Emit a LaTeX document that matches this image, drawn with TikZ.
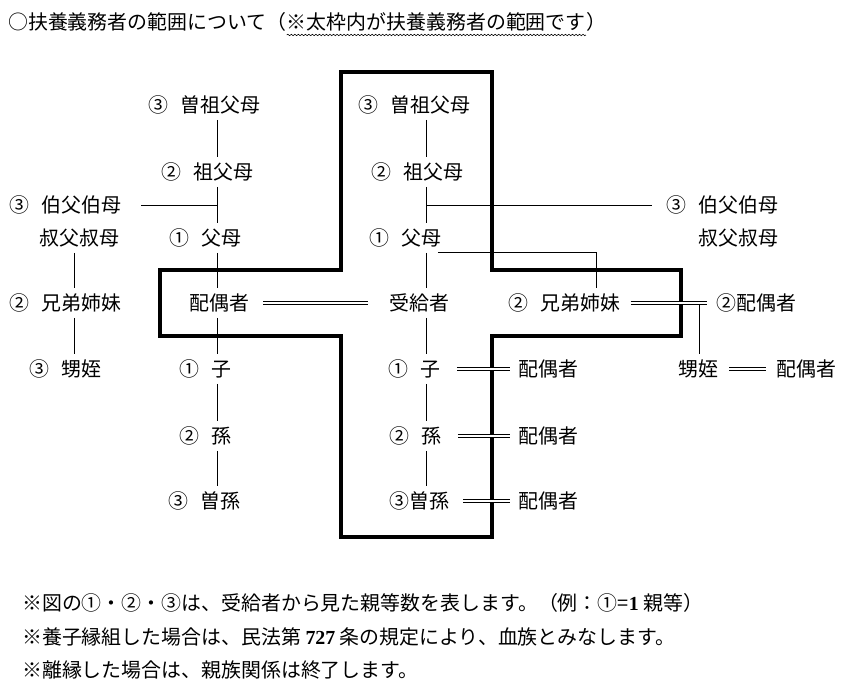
\documentclass[tikz,border=0pt]{standalone}
\usepackage{fontspec}
\setmainfont{Noto Sans CJK JP}
\newfontfamily\latinbf{Liberation Serif}
\usetikzlibrary{positioning,decorations.pathmorphing}

\newcommand{\nsp}{\hspace{0.6em}}

\tikzset{
  kin/.style={anchor=west,inner xsep=1pt,inner ysep=4pt,text height=15pt,text depth=2pt,font=\fontsize{17}{20}\selectfont},
  note/.style={anchor=west,inner sep=0pt,font=\fontsize{17}{20}\selectfont},
  link/.style={line width=0.7pt},
  wed/.style={double,double distance=2.4pt,line width=0.9pt},
  frame/.style={line width=3.4pt,line join=miter}
}

\begin{document}
\begin{tikzpicture}[x=0.03cm,y=-0.03cm]
  \useasboundingbox (0,0) rectangle (855,694);
  % title
  \node[note] (ttl) at (8,22) {○扶養義務者の範囲について（};
  \node[note,anchor=base west] (ttlnote) at (ttl.base east) {※太枠内が扶養義務者の範囲です};
  \node[note,anchor=base west] (ttlend) at (ttlnote.base east) {）};
  \draw[decorate,decoration={snake,amplitude=0.6pt,segment length=3pt},line width=0.5pt]
    ([yshift=-3pt]ttlnote.south west) -- ([yshift=-3pt]ttlnote.south east);

  % the thick frame
  \draw[frame] (341,72) -- (492,72) -- (492,270) -- (681,270) -- (681,336) -- (492,336)
    -- (492,537) -- (341,537) -- (341,336) -- (160,336) -- (160,270) -- (341,270) -- cycle;

  % columns
  \coordinate (colF) at (74,0);
  \coordinate (colL) at (217,0);
  \coordinate (colC) at (426,0);
  \coordinate (colS) at (596,0);
  \coordinate (colN) at (699,0);

  % far left
  \node[kin] (uncleL) at (8,205)   {③\nsp 伯父伯母};
  \node[kin] (auntL)  at (38,238)  {叔父叔母};
  \node[kin] (sibL)   at (8,303)   {②\nsp 兄弟姉妹};
  \node[kin] (nephL)  at (28,369)  {③\nsp 甥姪};

  % left column
  \node[kin] (ggpL) at (147,105) {③\nsp 曽祖父母};
  \node[kin] (gpL)  at (160,172) {②\nsp 祖父母};
  \node[kin] (pL)   at (168,238) {①\nsp 父母};
  \node[kin] (spL)  at (188,303) {配偶者};
  \node[kin] (chL)  at (178,369) {①\nsp 子};
  \node[kin] (gcL)  at (178,436) {②\nsp 孫};
  \node[kin] (ggcL) at (167,501) {③\nsp 曽孫};

  % centre column
  \node[kin] (ggpC) at (357,105) {③\nsp 曽祖父母};
  \node[kin] (gpC)  at (370,172) {②\nsp 祖父母};
  \node[kin] (pC)   at (368,238) {①\nsp 父母};
  \node[kin] (self) at (388,303) {受給者};
  \node[kin] (chC)  at (387,369) {①\nsp 子};
  \node[kin] (gcC)  at (388,436) {②\nsp 孫};
  \node[kin] (ggcC) at (388,501) {③曽孫};
  \node[kin] (chSp)  at (517,369) {配偶者};
  \node[kin] (gcSp)  at (517,436) {配偶者};
  \node[kin] (ggcSp) at (517,501) {配偶者};

  % right side
  \node[kin] (uncleR) at (665,205) {③\nsp 伯父伯母};
  \node[kin] (auntR)  at (697,238) {叔父叔母};
  \node[kin] (sibC)   at (507,303) {②\nsp 兄弟姉妹};
  \node[kin] (sibSp)  at (715,303) {②配偶者};
  \node[kin] (nephC)  at (677,369) {甥姪};
  \node[kin] (nephSp) at (775,369) {配偶者};

  % blood lines
  \draw[link] (uncleL.east) ++(16pt,0) -- (uncleL -| colL);
  \draw[link] (auntL.south -| colF) -- (sibL.north -| colF);
  \draw[link] (sibL.south -| colF) -- (nephL.north -| colF);

  \draw[link] (ggpL.south -| colL) -- (gpL.north -| colL);
  \draw[link] (gpL.south -| colL) -- (pL.north -| colL);
  \draw[link] (pL.south -| colL) -- (spL.north -| colL);
  \draw[link] (spL.south -| colL) -- (chL.north -| colL);
  \draw[link] (chL.south -| colL) -- (gcL.north -| colL);
  \draw[link] (gcL.south -| colL) -- (ggcL.north -| colL);

  \draw[link] (ggpC.south -| colC) -- (gpC.north -| colC);
  \draw[link] (gpC.south -| colC) -- (pC.north -| colC);
  \draw[link] (pC.south -| colC) -- (self.north -| colC);
  \draw[link] (self.south -| colC) -- (chC.north -| colC);
  \draw[link] (chC.south -| colC) -- (gcC.north -| colC);
  \draw[link] (gcC.south -| colC) -- (ggcC.north -| colC);

  \draw[link] (uncleR -| colC) -- ([xshift=-11pt]uncleR.west);
  \draw[link] ([xshift=-4pt]pC.south east) -| (sibC.north -| colS);
  \draw[link] (sibC -| colN) -- (nephC.north -| colN);

  % marriages
  \draw[wed,shorten <=11pt,shorten >=17pt] (spL) -- (self);
  \draw[wed,shorten <=13pt,shorten >=6pt] (chC) -- (chSp);
  \draw[wed,shorten <=13pt,shorten >=6pt] (gcC) -- (gcSp);
  \draw[wed,shorten <=11pt,shorten >=6pt] (ggcC) -- (ggcSp);
  \draw[wed,shorten <=8pt,shorten >=7pt] (sibC) -- (sibSp);
  \draw[wed,shorten <=8pt,shorten >=8pt] (nephC) -- (nephSp);

  % notes
  \node[note] (fn1) at (22,603) {※図の①・②・③は、受給者から見た親等数を表します。（例：①={\latinbf\bfseries 1} 親等）};
  \node[note] (fn2) at (22,637) {※養子縁組した場合は、民法第 {\latinbf\bfseries 727} 条の規定により、血族とみなします。};
  \node[note] (fn3) at (22,670) {※離縁した場合は、親族関係は終了します。};
\end{tikzpicture}
\end{document}
